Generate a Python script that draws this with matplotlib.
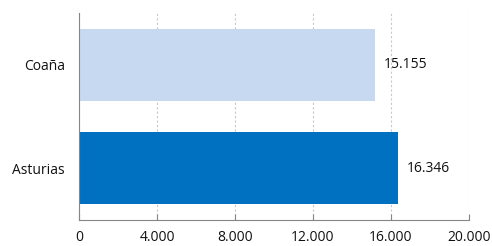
import matplotlib.pyplot as plt
from matplotlib.ticker import FuncFormatter

# Data
places = ["Asturias", "Coaña"]
values = [16346, 15155]
colors = ["#0070C0", "#C6D9F1"]
xticks = [0, 4000, 8000, 12000, 16000, 20000]

plt.rcParams["font.family"] = ["Open Sans", "DejaVu Sans"]

def fmt(v, pos=None):
    return f"{int(v):,}".replace(",", ".")

fig = plt.figure(figsize=(4.92, 2.46), dpi=100)
ax = fig.add_axes([79 / 492, 26 / 246, 390 / 492, 207 / 246])

ax.barh(places, values, height=0.7, color=colors, zorder=2)
for i, v in enumerate(values):
    ax.text(v + 450, i, fmt(v), va="center", ha="left", fontsize=10, color="#111111")

ax.set_xlim(0, 20000)
ax.set_ylim(-0.5, 1.5)
ax.set_xticks(xticks)
ax.xaxis.set_major_formatter(FuncFormatter(fmt))
ax.grid(axis="x", color="#C8C8C8", linestyle=(0, (2, 2)), linewidth=0.8, zorder=0)

for s in ["top", "right"]:
    ax.spines[s].set_visible(False)
for s in ["left", "bottom"]:
    ax.spines[s].set_color("#868686")
ax.tick_params(axis="y", length=0, labelsize=10, labelcolor="#111111", pad=10)
ax.tick_params(axis="x", length=4, direction="in", color="#868686",
               labelsize=10, labelcolor="#111111", pad=7)

fig.savefig("out.png", dpi=100)
